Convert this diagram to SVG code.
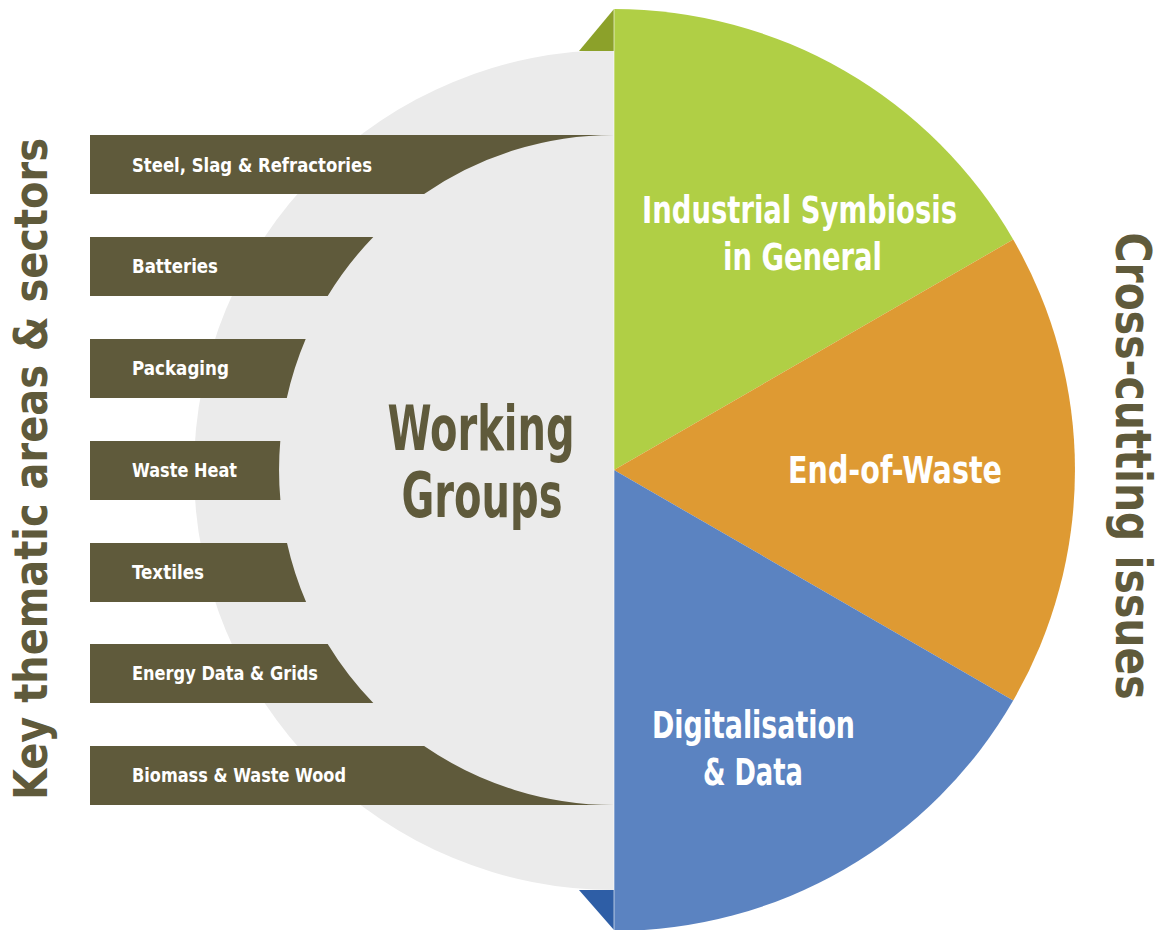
<svg xmlns="http://www.w3.org/2000/svg" width="1163" height="930" viewBox="0 0 1163 930">
  <style>
    .t { font-family: "DejaVu Sans Condensed", "DejaVu Sans", "Liberation Sans Narrow", sans-serif; font-stretch: condensed; font-weight: bold; }
    .bar { fill: #5f5a3b; }
    .barlabel { fill: #ffffff; font-size: 20px; }
    .olive { fill: #5f5a3b; }
    .white { fill: #ffffff; }
  </style>
  <rect width="1163" height="930" fill="#ffffff"/>

  <!-- grey half disc behind the working groups -->
  <g id="working-groups">
    <path d="M614,50 A420,420 0 0,0 614,890 Z" fill="#ebebeb"/>
    <text class="t olive" x="481" y="450" font-size="63" text-anchor="middle" textLength="187" lengthAdjust="spacingAndGlyphs">Working</text>
    <text class="t olive" x="482" y="517" font-size="63" text-anchor="middle" textLength="161" lengthAdjust="spacingAndGlyphs">Groups</text>
  </g>

  <!-- small corner wedges -->
  <path d="M579,51 L614,9 L614,51 Z" fill="#8ca12a"/>
  <path d="M579,890 L614,890 L614,930 Z" fill="#2e5ea6"/>

  <!-- cross-cutting pie sectors -->
  <g id="industrial-symbiosis">
    <path d="M614,470 L614,9 A461,461 0 0,1 1013.2,239.5 Z" fill="#b0cf45"/>
    <text class="t white" x="799.5" y="223" font-size="37" text-anchor="middle" textLength="315" lengthAdjust="spacingAndGlyphs">Industrial Symbiosis</text>
    <text class="t white" x="802.5" y="270" font-size="37" text-anchor="middle" textLength="159" lengthAdjust="spacingAndGlyphs">in General</text>
  </g>
  <g id="end-of-waste">
    <path d="M614,470 L1013.2,239.5 A461,461 0 0,1 1013.2,700.5 Z" fill="#de9a33"/>
    <text class="t white" x="895" y="483" font-size="37" text-anchor="middle" textLength="214" lengthAdjust="spacingAndGlyphs">End-of-Waste</text>
  </g>
  <g id="digitalisation">
    <path d="M614,470 L1013.2,700.5 A461,461 0 0,1 614,931 Z" fill="#5b83c1"/>
    <text class="t white" x="753.5" y="738" font-size="37" text-anchor="middle" textLength="203" lengthAdjust="spacingAndGlyphs">Digitalisation</text>
    <text class="t white" x="753" y="785" font-size="37" text-anchor="middle" textLength="100" lengthAdjust="spacingAndGlyphs">&amp; Data</text>
  </g>
  <line x1="614" y1="9" x2="614" y2="931" stroke="#ffffff" stroke-width="1" stroke-opacity="0.6"/>

  <!-- sector bars, cut by the inner circle -->
  <g id="steel">
    <path class="bar" d="M90,135 H614 A335,335 0 0,0 424.1,194 H90 Z"/>
    <text class="t barlabel" x="132" y="172" textLength="240" lengthAdjust="spacingAndGlyphs">Steel, Slag &amp; Refractories</text>
  </g>
  <g id="batteries">
    <path class="bar" d="M90,237 H373.3 A335,335 0 0,0 327.7,296 H90 Z"/>
    <text class="t barlabel" x="132" y="273" textLength="86" lengthAdjust="spacingAndGlyphs">Batteries</text>
  </g>
  <g id="packaging">
    <path class="bar" d="M90,339 H305.7 A335,335 0 0,0 286.8,398 H90 Z"/>
    <text class="t barlabel" x="132" y="375" textLength="97" lengthAdjust="spacingAndGlyphs">Packaging</text>
  </g>
  <g id="waste-heat">
    <path class="bar" d="M90,441 H280.3 A335,335 0 0,0 280.4,500 H90 Z"/>
    <text class="t barlabel" x="132" y="477" textLength="105" lengthAdjust="spacingAndGlyphs">Waste Heat</text>
  </g>
  <g id="textiles">
    <path class="bar" d="M90,543 H287 A335,335 0 0,0 306.1,602 H90 Z"/>
    <text class="t barlabel" x="132" y="579" textLength="72" lengthAdjust="spacingAndGlyphs">Textiles</text>
  </g>
  <g id="energy">
    <path class="bar" d="M90,644 H327.7 A335,335 0 0,0 373.3,703 H90 Z"/>
    <text class="t barlabel" x="132" y="680" textLength="186" lengthAdjust="spacingAndGlyphs">Energy Data &amp; Grids</text>
  </g>
  <g id="biomass">
    <path class="bar" d="M90,746 H424.1 A335,335 0 0,0 614,805 H90 Z"/>
    <text class="t barlabel" x="132" y="782" textLength="214" lengthAdjust="spacingAndGlyphs">Biomass &amp; Waste Wood</text>
  </g>

  <!-- side titles -->
  <text class="t olive" transform="translate(47,469) rotate(-90)" font-size="46" text-anchor="middle" textLength="662" lengthAdjust="spacingAndGlyphs">Key thematic areas &amp; sectors</text>
  <text class="t olive" transform="translate(1116,466) rotate(90)" font-size="50" text-anchor="middle" textLength="467" lengthAdjust="spacingAndGlyphs">Cross-cutting issues</text>
</svg>
